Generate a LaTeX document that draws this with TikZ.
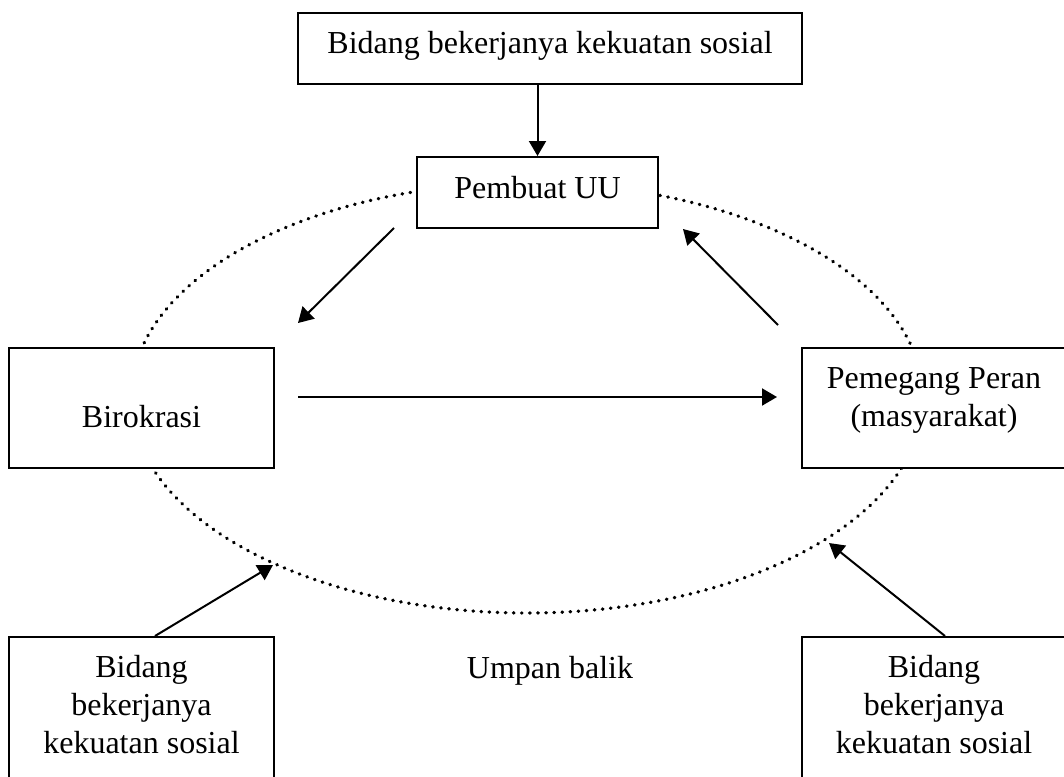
\documentclass[tikz,border=0pt]{standalone}
\usepackage{fontspec}
\setmainfont{Liberation Serif}
\usetikzlibrary{arrows.meta}
\newcommand\mlines[1]{\begin{tabular}[t]{@{}c@{}}#1\end{tabular}}
\begin{document}
\begin{tikzpicture}[x=1pt,y=-1pt,
  font=\fontsize{32}{38}\selectfont,
  box/.style={draw, line width=2pt, fill=white, inner sep=0pt, rectangle},
  arr/.style={line width=2pt, -{Triangle[length=15pt,width=17pt]}},
  dotline/.style={line width=3.4pt, line cap=round, dash pattern=on 0.5pt off 7.6pt}]
\useasboundingbox (0,0) rectangle (1064,776);
\clip (0,0) rectangle (1064,776);
% feedback loop
\draw[dotline] (527,398) ellipse [x radius=396pt, y radius=215pt];
% boxes
\node[box, minimum width=504pt, minimum height=71pt, text height=20pt, text depth=11pt] (top) at (550,48.5) {Bidang bekerjanya kekuatan sosial};
\node[box, minimum width=241pt, minimum height=71pt, text height=20pt, text depth=9pt] (pembuat) at (537.5,192.5) {Pembuat UU};
\node[box, minimum width=265pt, minimum height=120pt, text height=40pt, text depth=2pt] (biro) at (141.5,408) {Birokrasi};
\node[box, minimum width=264pt, minimum height=120pt, text height=0pt, text depth=40pt] (pemegang) at (934,408) {\mlines{Pemegang Peran\\(masyarakat)}};
\node[box, minimum width=265pt, minimum height=153pt, text height=0pt, text depth=73pt] (bl) at (141.5,713.5) {\mlines{Bidang\\bekerjanya\\kekuatan sosial}};
\node[box, minimum width=264pt, minimum height=153pt, text height=0pt, text depth=73pt] (br) at (934,713.5) {\mlines{Bidang\\bekerjanya\\kekuatan sosial}};
\node[anchor=base, inner sep=0pt] (umpan) at (550,678) {Umpan balik};
% free arrow ends
\coordinate (a2s) at (394,228);
\coordinate (a2e) at (298,323);
\coordinate (a3s) at (778,325);
\coordinate (a3e) at (683,229);
\coordinate (a4s) at (298,397);
\coordinate (a4e) at (777,397);
\coordinate (a5e) at (273,565);
\coordinate (a6e) at (829,543);
% connectors
\draw[arr] (top.south -| pembuat.north) -- (pembuat.north);
\draw[arr] (a2s) -- (a2e);
\draw[arr] (a3s) -- (a3e);
\draw[arr] (a4s) -- (a4e);
\draw[arr] ([xshift=13.5pt]bl.north) -- (a5e);
\draw[arr] ([xshift=11pt]br.north) -- (a6e);
\end{tikzpicture}
\end{document}
